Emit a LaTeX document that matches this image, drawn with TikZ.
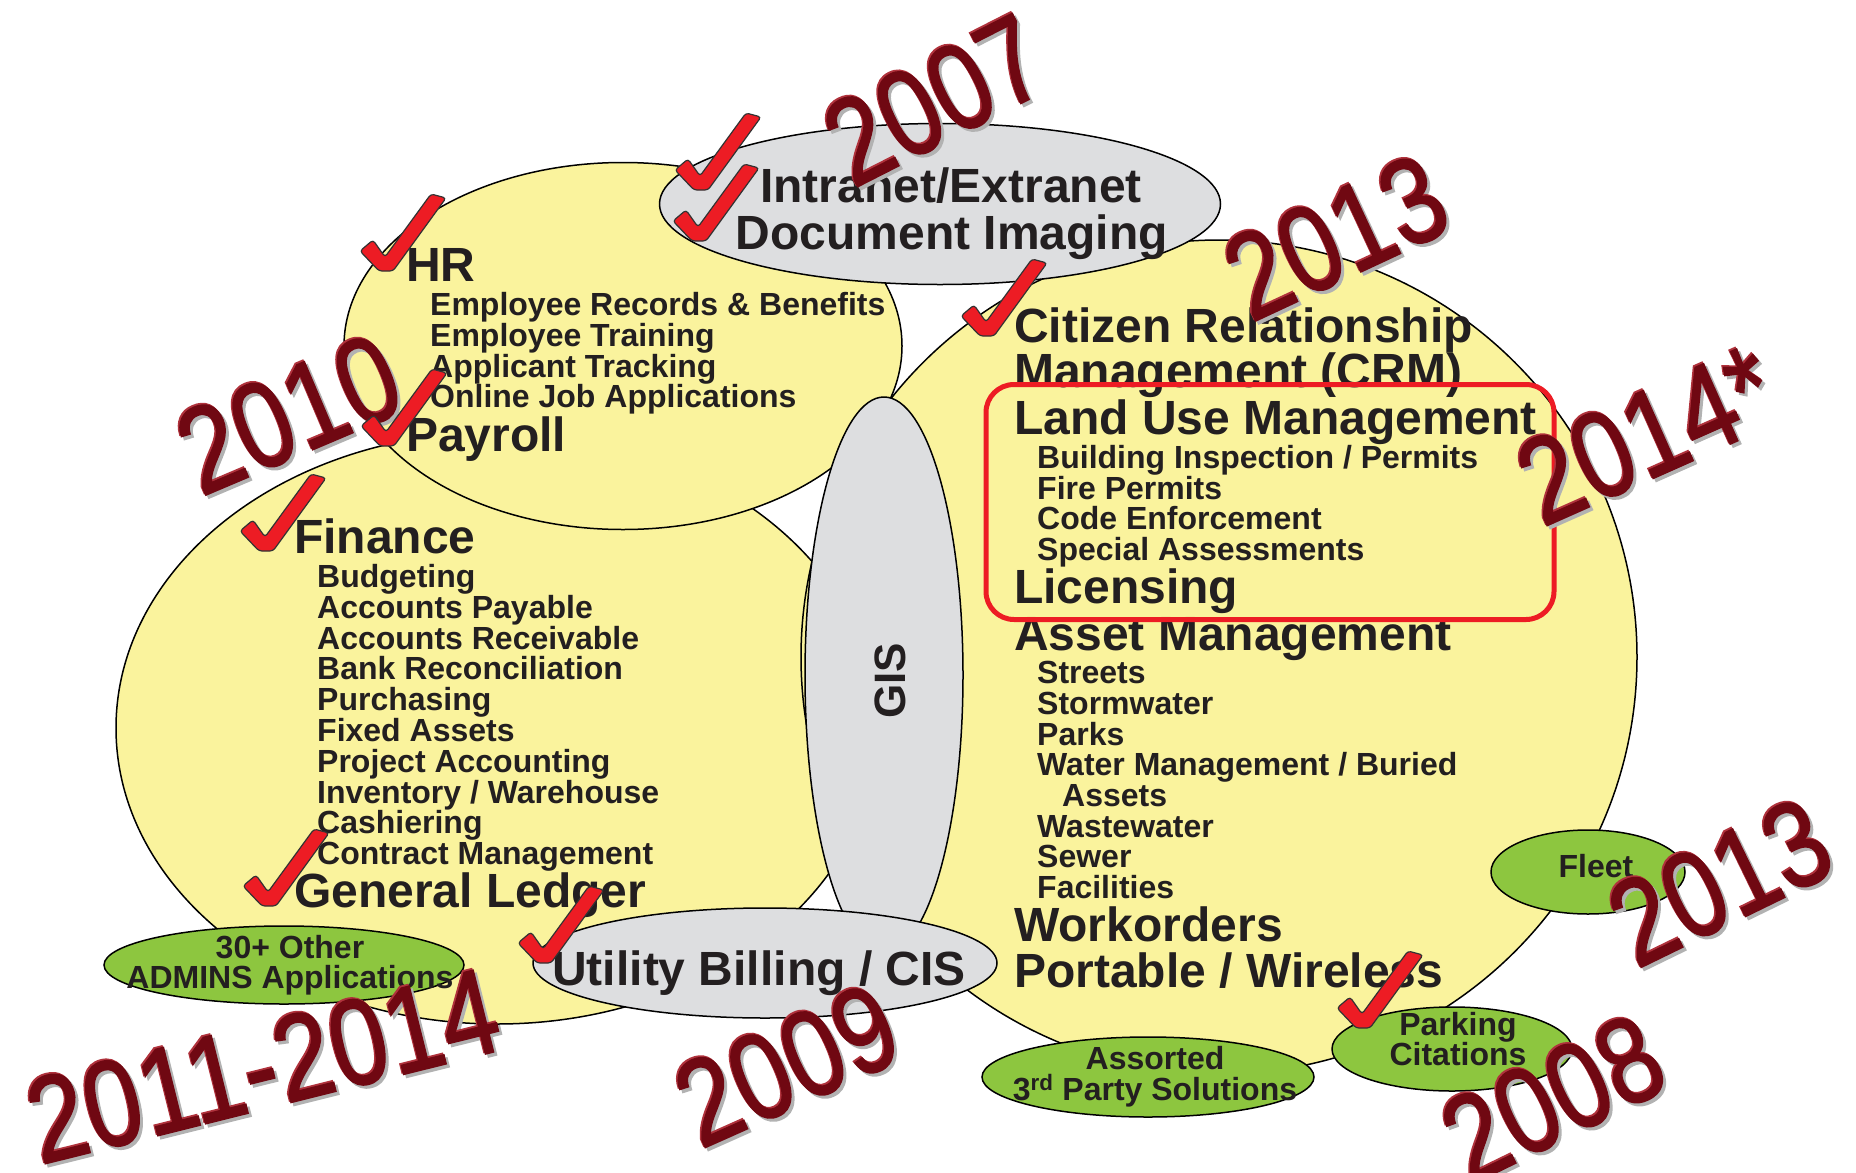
\documentclass[tikz,border=0pt]{standalone}
\usepackage{fontspec}
\setmainfont{Liberation Sans}
\newfontfamily\yearfont[FakeBold=1.3]{Liberation Sans}
\usetikzlibrary{shapes.geometric}

\definecolor{module yellow}{RGB}{250,243,157}
\definecolor{module grey}{RGB}{221,222,224}
\definecolor{module green}{RGB}{141,198,63}
\definecolor{check red}{RGB}{237,28,36}
\definecolor{year red}{RGB}{112,8,18}
\definecolor{year light}{RGB}{176,50,60}
\definecolor{label color}{RGB}{35,31,32}
\tikzset{
    x={1pt},
    y={-1pt},
    module/.style={
        ellipse, draw=black, line width={1.5pt},
        fill={#1}, inner sep=0pt, outer sep=0pt,
    },
    module/.default={module yellow},
    heading/.style={
        font={\fontsize{48}{46}\selectfont\bfseries},
        text=label color, anchor=base west, inner sep=0pt,
    },
    item/.style={
        font={\fontsize{32}{31}\selectfont\bfseries},
        text=label color, anchor=base west, inner sep=0pt,
    },
    big label/.style={heading, anchor=base},
    small label/.style={item, anchor=base},
    year/.style={
        font={\yearfont\fontsize{102}{102}\selectfont},
        text=year red, inner sep=0pt,
        rotate={#1}, yscale=1.2,
    },
    year shadow/.style={
        xshift=3pt, yshift=-3pt,
        year={#1}, text=black!30,
    },
    year light/.style={
        xshift=-1.5pt, yshift=1.5pt,
        year={#1}, text=year light,
    },
    tick mark/.style={
        fill=check red, draw=black!80, line width={1.2pt},
        rounded corners={3pt},
    },
    tick/.pic={
        \path[tick mark] (-27,-17) -- (-14,-28) -- (-2,-11) -- (44,-74)
            -- (59,-70) -- (6,3) -- (-8,3) -- cycle;
    },
    highlight box/.style={
        draw=check red, line width={5pt}, rounded corners={28pt},
        minimum width={568}, minimum height={235},
    },
}

\begin{document}
\begin{tikzpicture}
\useasboundingbox (0,0) rectangle (1856,1173);
% modules
\node[module, minimum width={762}, minimum height={592}] (finance) at (497,728) {};
\node[module, minimum width={836}, minimum height={834}] (crm) at (1219,657) {};
\node[module, minimum width={558}, minimum height={367}] (hr) at (623,346) {};
\node[module={module grey}, minimum width={158}, minimum height={556}] (gis) at (884,675) {};
\node[module={module grey}, minimum width={561}, minimum height={161}] (intranet) at (940,204) {};
\node[module={module grey}, minimum width={464}, minimum height={110}] (billing) at (765,963) {};
\node[module={module green}, minimum width={360}, minimum height={78}] (admins) at (284,965) {};
\node[module={module green}, minimum width={332}, minimum height={80}] (assorted) at (1148,1077) {};
\node[module={module green}, minimum width={240}, minimum height={84}] (parking) at (1452,1049) {};
\node[module={module green}, minimum width={194}, minimum height={84}] (fleet) at (1588,872) {};
% module labels
\node[big label] (intranet top) at (951,202) {Intranet/Extranet};
\node[big label] (intranet bottom) at (952,249) {Document Imaging};
\node[big label] (billing label) at (759,985) {Utility Billing / CIS};
\node[big label, font={\fontsize{44}{44}\selectfont\bfseries}, anchor=center, rotate=90] (gis label) at (890,681) {GIS};
\node[small label] (admins top) at (290,958) {30+ Other};
\node[small label] (admins bottom) at (290,988) {ADMINS Applications};
\node[small label] (assorted top) at (1155,1069) {Assorted};
\node[small label] (assorted bottom) at (1155,1100) {3\textsuperscript{rd} Party Solutions};
\node[small label] (parking top) at (1458,1035) {Parking};
\node[small label] (parking bottom) at (1458,1065) {Citations};
\node[small label] (fleet label) at (1596,877) {Fleet};
% hr
\node[heading] (hr head) at (406,281) {HR};
\node[item] (hr1) at (430,315) {Employee Records \& Benefits};
\node[item] (hr2) at (430,346) {Employee Training};
\node[item] (hr3) at (430,377) {Applicant Tracking};
\node[item] (hr4) at (430,407) {Online Job Applications};
\node[heading] (payroll head) at (406,451) {Payroll};
% finance
\node[heading] (finance head) at (294,553) {Finance};
\node[item] (fin1) at (317,587) {Budgeting};
\node[item] (fin2) at (317,618) {Accounts Payable};
\node[item] (fin3) at (317,649) {Accounts Receivable};
\node[item] (fin4) at (317,679) {Bank Reconciliation};
\node[item] (fin5) at (317,710) {Purchasing};
\node[item] (fin6) at (317,741) {Fixed Assets};
\node[item] (fin7) at (317,772) {Project Accounting};
\node[item] (fin8) at (317,803) {Inventory / Warehouse};
\node[item] (fin9) at (317,833) {Cashiering};
\node[item] (fin10) at (317,864) {Contract Management};
\node[heading] (ledger head) at (294,907) {General Ledger};
% citizen side
\node[heading] (crm head) at (1014,342) {Citizen Relationship};
\node[heading] (crm head2) at (1014,387) {Management (CRM)};
\node[heading] (land head) at (1014,434) {Land Use Management};
\node[item] (land1) at (1037,468) {Building Inspection / Permits};
\node[item] (land2) at (1037,499) {Fire Permits};
\node[item] (land3) at (1037,529) {Code Enforcement};
\node[item] (land4) at (1037,560) {Special Assessments};
\node[heading] (licensing head) at (1014,603) {Licensing};
\node[heading] (asset head) at (1014,650) {Asset Management};
\node[item] (asset1) at (1037,683) {Streets};
\node[item] (asset2) at (1037,714) {Stormwater};
\node[item] (asset3) at (1037,745) {Parks};
\node[item] (asset4) at (1037,775) {Water Management / Buried};
\node[item] (asset5) at (1062,806) {Assets};
\node[item] (asset6) at (1037,837) {Wastewater};
\node[item] (asset7) at (1037,867) {Sewer};
\node[item] (asset8) at (1037,898) {Facilities};
\node[heading] (workorders head) at (1014,941) {Workorders};
\node[heading] (portable head) at (1014,987) {Portable / Wireless};
\node[highlight box] (land box) at (1270,502) {};
% years
\node[year shadow=27] (y2007 shadow) at (935,100) {2007};
\node[year light=27] (y2007 light) at (935,100) {2007};
\node[year=27] (y2007) at (935,100) {2007};
\node[year shadow=25] (y2013a shadow) at (1336,237) {2013};
\node[year light=25] (y2013a light) at (1336,237) {2013};
\node[year=25] (y2013a) at (1336,237) {2013};
\node[year shadow=24] (y2014 shadow) at (1647,435) {2014*};
\node[year light=24] (y2014 light) at (1647,435) {2014*};
\node[year=24] (y2014) at (1647,435) {2014*};
\node[year shadow=23] (y2010 shadow) at (289,414) {2010};
\node[year light=23] (y2010 light) at (289,414) {2010};
\node[year=23] (y2010) at (289,414) {2010};
\node[year shadow=14] (y2011 shadow) at (263,1066) {2011-2014};
\node[year light=14] (y2011 light) at (263,1066) {2011-2014};
\node[year=14] (y2011) at (263,1066) {2011-2014};
\node[year shadow=24] (y2009 shadow) at (787,1065) {2009};
\node[year light=24] (y2009 light) at (787,1065) {2009};
\node[year=24] (y2009) at (787,1065) {2009};
\node[year shadow=26] (y2013b shadow) at (1720,882) {2013};
\node[year light=26] (y2013b light) at (1720,882) {2013};
\node[year=26] (y2013b) at (1720,882) {2013};
\node[year shadow=26] (y2008 shadow) at (1553,1098) {2008};
\node[year light=26] (y2008 light) at (1553,1098) {2008};
\node[year=26] (y2008) at (1553,1098) {2008};
% checks
\pic at (702,187) {tick};
\pic at (700,238) {tick};
\pic at (387,268) {tick};
\pic at (388,443) {tick};
\pic at (267,548) {tick};
\pic at (988,333) {tick};
\pic at (270,903) {tick};
\pic at (545,960) {tick};
\pic at (1364,1025) {tick};
\end{tikzpicture}
\end{document}
